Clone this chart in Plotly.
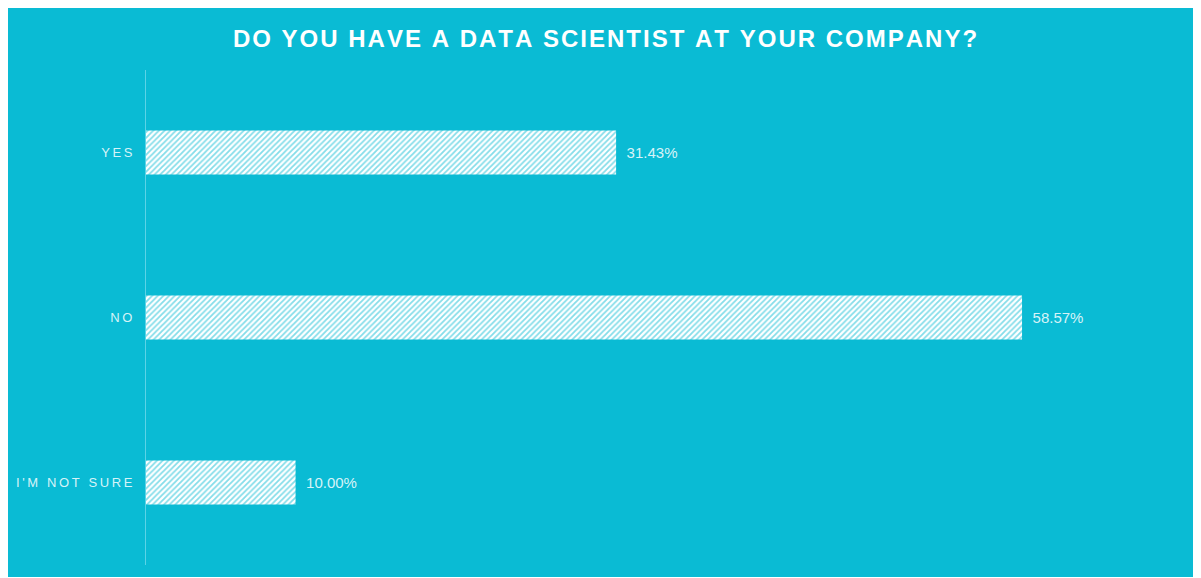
import plotly.graph_objects as go

BG = "#0abbd4"
SP = "\u2009"  # thin space used to mimic the wide letter spacing
HSP = "\u200a"  # hair space for the title tracking

categories = ["YES", "NO", "I'M NOT SURE"]
percentages = [31.43, 58.57, 10.00]
value_labels = ["31.43%", "58.57%", "10.00%"]
title_text = "DO YOU HAVE A DATA SCIENTIST AT YOUR COMPANY?"


def spaced(s, sep=SP):
    return sep.join(s)


tick_labels = [spaced(c) for c in categories]

fig = go.Figure()

fig.add_trace(go.Bar(
    x=percentages,
    y=tick_labels,
    orientation="h",
    width=0.267,
    text=["\u2002" + v for v in value_labels],
    textposition="outside",
    textfont=dict(family="Liberation Sans, Arial, sans-serif", size=15, color="rgba(235,250,252,0.92)"),
    cliponaxis=False,
    marker=dict(
        color="white",
        line=dict(width=0),
        pattern=dict(shape="/", bgcolor="white", fgcolor=BG, size=4, solidity=0.45),
    ),
    hovertemplate="%{y}: %{x:.2f}%<extra></extra>",
))

fig.update_layout(
    title=dict(
        text="<b>" + spaced(title_text, HSP) + "</b>",
        x=0.5,
        xanchor="center",
        y=1 - 31 / 569,
        yanchor="middle",
        font=dict(family="Liberation Sans, Arial, sans-serif", size=24, color="white"),
    ),
    width=1194,
    height=569,
    paper_bgcolor=BG,
    plot_bgcolor=BG,
    margin=dict(l=138, r=9, t=62, b=12),
    showlegend=False,
)

fig.update_xaxes(range=[0, 70], visible=False, showgrid=False, zeroline=False)
fig.update_yaxes(
    autorange=False,
    range=[2.5, -0.5],
    categoryorder="array",
    categoryarray=tick_labels,
    showline=True,
    linecolor="#5cd3e6",
    linewidth=1,
    showgrid=False,
    ticks="outside",
    ticklen=10,
    tickcolor="rgba(0,0,0,0)",
    tickfont=dict(family="Liberation Sans, Arial, sans-serif", size=13, color="rgba(235,250,252,0.92)"),
)

fig.write_html("out.html")
